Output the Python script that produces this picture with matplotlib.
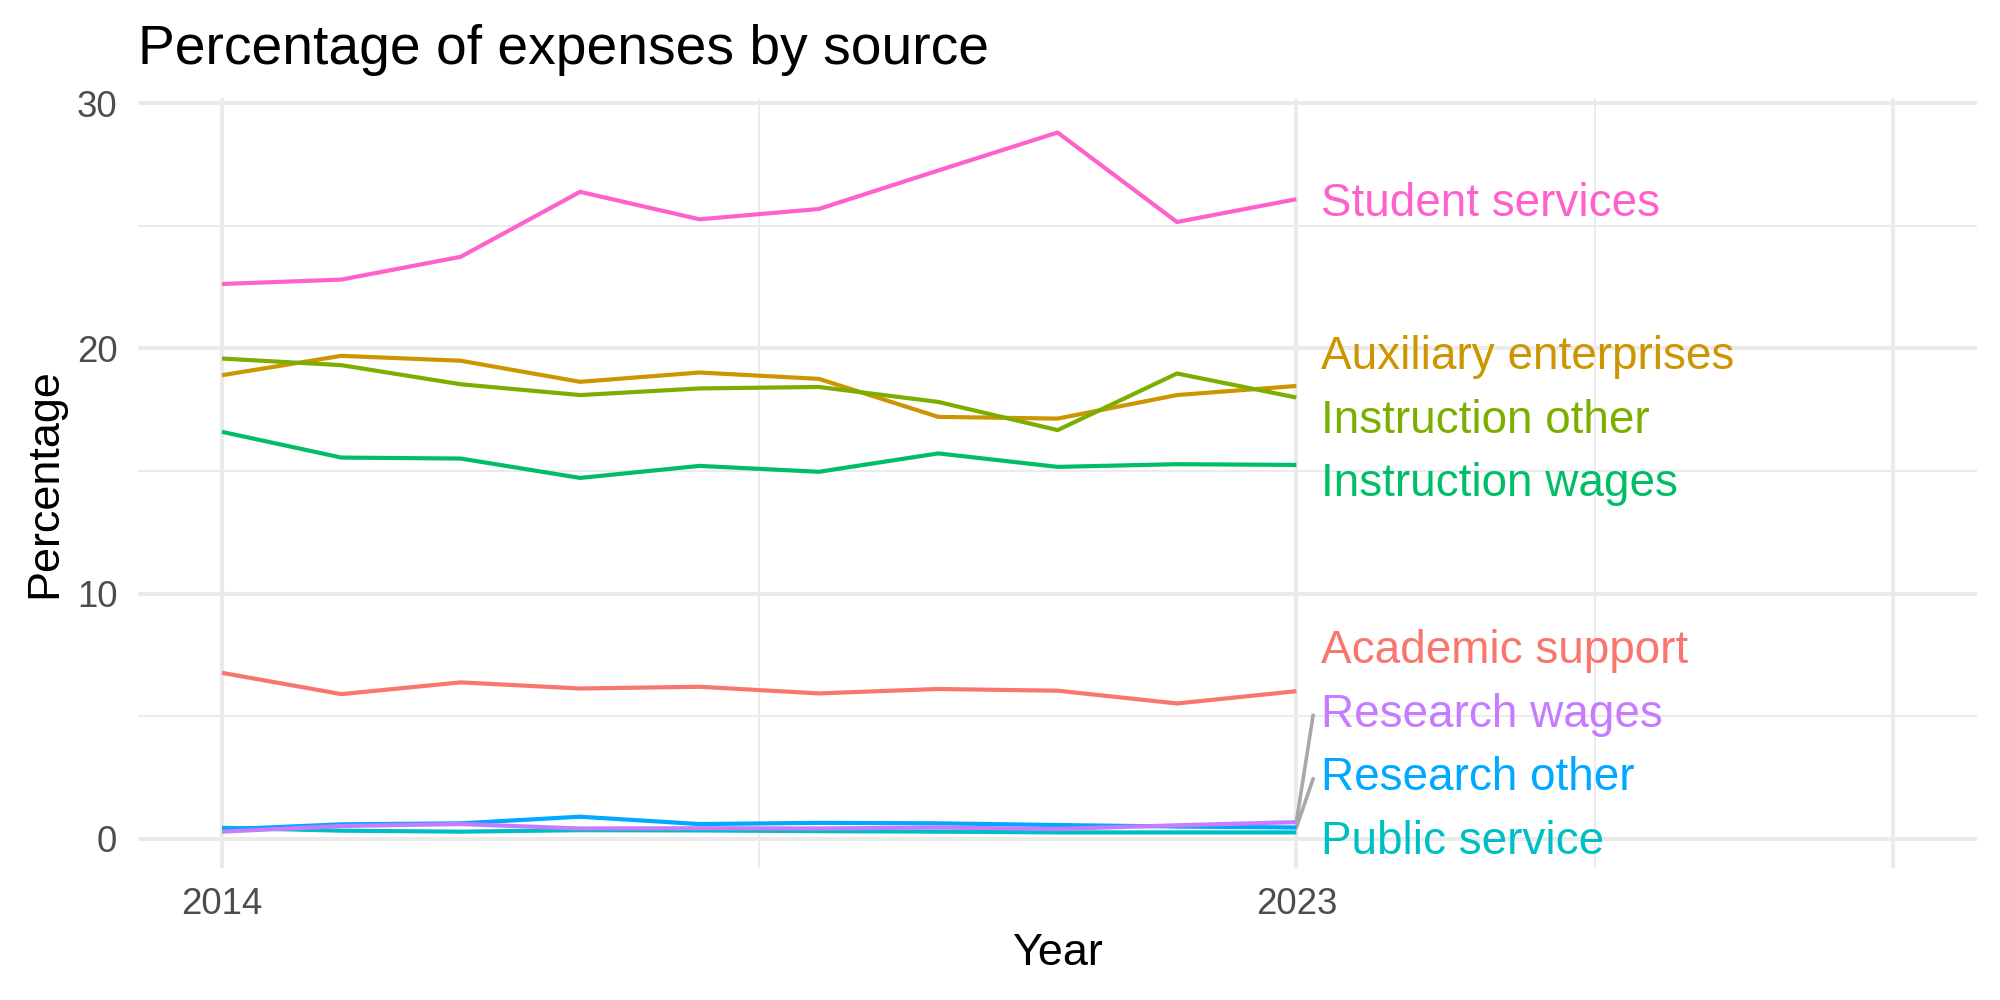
import numpy as np
import matplotlib
matplotlib.use("Agg")
import matplotlib.pyplot as plt
from matplotlib.ticker import FixedLocator

plt.rcParams['font.family'] = ['Liberation Sans', 'DejaVu Sans']

# ---------------- data ----------------
years = [2014, 2015, 2016, 2017, 2018, 2019, 2020, 2021, 2022, 2023]
categories = ["Academic support", "Auxiliary enterprises", "Instruction other",
              "Instruction wages", "Public service", "Research other",
              "Research wages", "Student services"]
academic_support = [6.77, 5.90, 6.38, 6.13, 6.20, 5.93, 6.11, 6.04, 5.52, 6.02]
auxiliary_enterprises = [18.91, 19.70, 19.50, 18.64, 19.02, 18.76, 17.21, 17.14, 18.10, 18.47]
instruction_other = [19.59, 19.32, 18.54, 18.10, 18.37, 18.43, 17.82, 16.67, 18.98, 18.00]
instruction_wages = [16.60, 15.55, 15.51, 14.72, 15.21, 14.97, 15.72, 15.17, 15.28, 15.25]
public_service = [0.45, 0.33, 0.29, 0.35, 0.34, 0.31, 0.29, 0.26, 0.26, 0.26]
research_other = [0.38, 0.59, 0.63, 0.90, 0.60, 0.65, 0.63, 0.56, 0.50, 0.46]
research_wages = [0.29, 0.52, 0.60, 0.42, 0.43, 0.42, 0.46, 0.40, 0.55, 0.68]
student_services = [22.63, 22.81, 23.74, 26.39, 25.27, 25.69, 27.26, 28.81, 25.16, 26.09]
series = [academic_support, auxiliary_enterprises, instruction_other, instruction_wages,
          public_service, research_other, research_wages, student_services]
colors = ["#F8766D", "#CD9600", "#7CAE00", "#00BE67", "#00BFC4", "#00A9FF", "#C77CFF", "#FF61CC"]
x_breaks = [2014, 2023, 2028]
x_tick_labels = ["2014", "2023", ""]
x_minor = [2018.5, 2025.5]
y_breaks = [0, 10, 20, 30]
y_minor = [5, 15, 25]


def repel(values, gap, lo):
    """1-D label repulsion: cluster overlapping labels around the mean of their targets."""
    order = sorted(range(len(values)), key=lambda i: values[i])
    clusters = []

    def bottom(c):
        m = np.mean([values[i] for i in c])
        return max(m - gap * (len(c) - 1) / 2, lo)

    for i in order:
        clusters.append([i])
        while len(clusters) > 1:
            a, b = clusters[-2], clusters[-1]
            if bottom(a) + gap * len(a) > bottom(b):
                clusters[-2:] = [a + b]
            else:
                break
    pos = [0.0] * len(values)
    for c in clusters:
        b0 = bottom(c)
        for k, i in enumerate(c):
            pos[i] = b0 + k * gap
    return pos


fig = plt.figure(figsize=(10, 5), dpi=200)
ax = fig.add_axes([0.0692, 0.1323, 0.9192, 0.7700])

for vals, col in zip(series, colors):
    ax.plot(years, vals, color=col, lw=1.5, solid_capstyle='butt', zorder=3)

last_vals = [s[-1] for s in series]
label_y = repel(last_vals, 2.59, 0.05)
label_x = years[-1] + 0.21
for name, col, v, ly in zip(categories, colors, last_vals, label_y):
    if abs(ly - v) - 1.1 > 0.8:
        ax.plot([years[-1], label_x - 0.07], [v, ly - 0.2], color='#A8A8A8', lw=1.3, zorder=2)
    ax.annotate(name, xy=(label_x, ly), xytext=(0, -5.9), textcoords='offset points',
                ha='left', va='baseline', color=col, fontsize=16.5, zorder=4)

ax.set_xlim(2013.30, 2028.70)
ax.set_ylim(-1.18, 30.23)

ax.xaxis.set_major_locator(FixedLocator(x_breaks))
ax.set_xticklabels(x_tick_labels)
ax.xaxis.set_minor_locator(FixedLocator(x_minor))
ax.yaxis.set_major_locator(FixedLocator(y_breaks))
ax.yaxis.set_minor_locator(FixedLocator(y_minor))

ax.grid(which='major', color='#EBEBEB', lw=1.45, zorder=0)
ax.grid(which='minor', color='#EBEBEB', lw=0.72, zorder=0)
ax.set_axisbelow(True)
for sp in ax.spines.values():
    sp.set_visible(False)

ax.tick_params(which='both', length=0)
ax.tick_params(axis='x', which='major', labelsize=13.2, labelcolor='#4D4D4D', pad=7)
ax.tick_params(axis='y', which='major', labelsize=13.2, labelcolor='#4D4D4D', pad=7.6)

ax.set_xlabel('Year', fontsize=16.2, labelpad=4, color='black')
ax.set_ylabel('Percentage', fontsize=16.2, labelpad=4, color='black')
ax.set_title('Percentage of expenses by source', loc='left', fontsize=19.85, pad=12.2, color='black')

fig.savefig('out.png', dpi=200, facecolor='white')
